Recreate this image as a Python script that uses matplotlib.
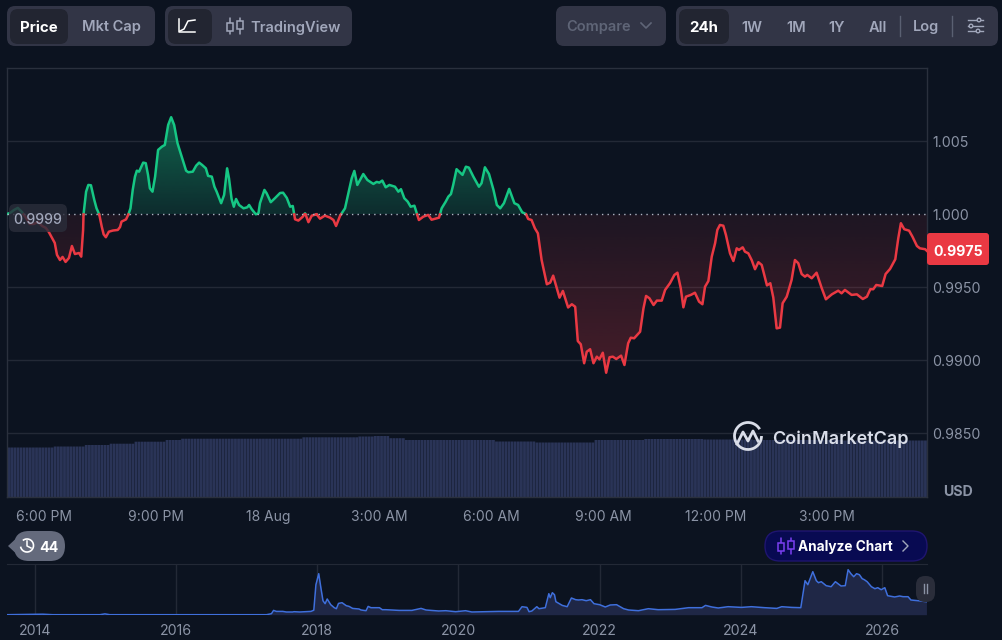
import numpy as np
import matplotlib
matplotlib.use("Agg")
import matplotlib.pyplot as plt
from matplotlib.patches import FancyBboxPatch, Rectangle, Circle, Arc, Polygon
from matplotlib.path import Path

plt.rcParams['font.family'] = ['Inter', 'DejaVu Sans']

# =====================================================
# DATA
# =====================================================
# hours after 6:00 PM on 17 Aug
price_hours = [
    -0.99, -0.91, -0.80, -0.70, -0.59, -0.48, -0.38, -0.27, -0.16, -0.05, 0.05, 0.13, 0.29, 0.35, 0.43, 0.50,
    0.58, 0.67, 0.75, 0.83, 0.94, 1.00, 1.05, 1.06, 1.13, 1.19, 1.26, 1.35, 1.41, 1.48, 1.55, 1.60,
    1.66, 1.74, 1.85, 1.98, 2.04, 2.08, 2.20, 2.26, 2.32, 2.38, 2.44, 2.49, 2.55, 2.66, 2.73, 2.79,
    2.84, 2.91, 2.98, 3.06, 3.16, 3.24, 3.33, 3.41, 3.49, 3.58, 3.65, 3.73, 3.81, 3.87, 3.99, 4.08,
    4.16, 4.24, 4.34, 4.40, 4.50, 4.57, 4.63, 4.75, 4.83, 4.91, 4.96, 5.03, 5.09, 5.15, 5.23, 5.35,
    5.45, 5.50, 5.57, 5.68, 5.75, 5.79, 5.91, 5.97, 6.08, 6.19, 6.33, 6.41, 6.51, 6.60, 6.67, 6.73,
    6.82, 6.94, 7.00, 7.09, 7.18, 7.31, 7.40, 7.53, 7.67, 7.76, 7.83, 7.94, 8.07, 8.16, 8.25, 8.32,
    8.40, 8.56, 8.67, 8.83, 8.92, 8.99, 9.07, 9.16, 9.26, 9.41, 9.50, 9.57, 9.66, 9.75, 9.83, 9.93,
    10.05, 10.17, 10.30, 10.39, 10.59, 10.66, 10.77, 10.84, 10.91, 10.97, 11.06, 11.22, 11.31, 11.39, 11.51, 11.66,
    11.73, 11.82, 11.93, 12.05, 12.14, 12.23, 12.33, 12.47, 12.61, 12.71, 12.82, 12.92, 12.98, 13.07, 13.16, 13.24,
    13.34, 13.48, 13.57, 13.65, 13.82, 13.91, 14.05, 14.15, 14.24, 14.31, 14.39, 14.48, 14.55, 14.64, 14.73, 14.82,
    14.89, 14.98, 15.07, 15.16, 15.25, 15.34, 15.47, 15.56, 15.66, 15.73, 15.82, 15.98, 16.07, 16.14, 16.23, 16.34,
    16.43, 16.56, 16.65, 16.78, 16.90, 16.98, 17.07, 17.14, 17.21, 17.34, 17.45, 17.56, 17.65, 17.72, 17.81, 17.90,
    17.99, 18.05, 18.12, 18.21, 18.28, 18.39, 18.48, 18.57, 18.63, 18.73, 18.79, 18.88, 18.97, 19.06, 19.15, 19.24,
    19.38, 19.47, 19.55, 19.64, 19.73, 19.80, 19.91, 20.04, 20.13, 20.22, 20.31, 20.40, 20.46, 20.58, 20.71, 20.85,
    20.96, 21.12, 21.29, 21.38, 21.47, 21.65, 21.79, 21.95, 22.06, 22.15, 22.23, 22.31, 22.47, 22.56, 22.68, 22.82,
    22.90, 22.97, 23.06, 23.19, 23.28, 23.40, 23.48, 23.62, 23.67,
]
price_values = [
    1.00003, 1.00010, 1.00031, 1.00045, 1.00017, 0.99976, 0.99935, 0.99935, 0.99949, 0.99921, 0.99908, 0.99880, 0.99805, 0.99723, 0.99688, 0.99709,
    0.99675, 0.99702, 0.99784, 0.99729, 0.99736, 0.99711, 0.99894, 0.99997, 1.00156, 1.00202, 1.00200, 1.00099, 1.00042, 1.00003, 0.99916, 0.99864,
    0.99844, 0.99882, 0.99890, 0.99894, 0.99914, 0.99951, 0.99966, 0.99997, 1.00042, 1.00168, 1.00259, 1.00300, 1.00293, 1.00355, 1.00351, 1.00271,
    1.00179, 1.00156, 1.00259, 1.00442, 1.00464, 1.00476, 1.00613, 1.00666, 1.00613, 1.00488, 1.00430, 1.00362, 1.00300, 1.00289, 1.00293, 1.00334,
    1.00355, 1.00339, 1.00316, 1.00264, 1.00259, 1.00190, 1.00156, 1.00077, 1.00134, 1.00316, 1.00248, 1.00106, 1.00053, 1.00106, 1.00065, 1.00042,
    1.00049, 1.00065, 1.00036, 1.00001, 1.00008, 1.00077, 1.00168, 1.00145, 1.00084, 1.00111, 1.00147, 1.00149, 1.00113, 1.00053, 1.00058, 0.99967,
    0.99958, 0.99985, 1.00008, 0.99947, 0.99992, 1.00001, 0.99971, 0.99992, 0.99978, 0.99962, 0.99921, 0.99992, 1.00042, 1.00145, 1.00248, 1.00298,
    1.00202, 1.00277, 1.00236, 1.00209, 1.00223, 1.00218, 1.00232, 1.00186, 1.00202, 1.00190, 1.00156, 1.00173, 1.00111, 1.00088, 1.00053, 1.00060,
    0.99962, 0.99985, 0.99997, 0.99964, 0.99978, 1.00042, 1.00088, 1.00122, 1.00140, 1.00202, 1.00310, 1.00271, 1.00327, 1.00321, 1.00259, 1.00190,
    1.00214, 1.00323, 1.00277, 1.00168, 1.00065, 1.00042, 1.00077, 1.00175, 1.00077, 1.00065, 1.00015, 1.00003, 0.99969, 0.99962, 0.99905, 0.99871,
    0.99688, 0.99522, 0.99533, 0.99581, 0.99430, 0.99476, 0.99363, 0.99385, 0.99368, 0.99133, 0.99111, 0.98981, 0.99060, 0.99077, 0.98981, 0.99026,
    0.99008, 0.99053, 0.98916, 0.99022, 0.99026, 0.99010, 0.99033, 0.98969, 0.99118, 0.99156, 0.99152, 0.99197, 0.99357, 0.99442, 0.99426, 0.99380,
    0.99410, 0.99410, 0.99483, 0.99529, 0.99586, 0.99601, 0.99494, 0.99364, 0.99437, 0.99449, 0.99464, 0.99403, 0.99385, 0.99505, 0.99544, 0.99711,
    0.99803, 0.99894, 0.99928, 0.99923, 0.99860, 0.99734, 0.99681, 0.99768, 0.99757, 0.99775, 0.99745, 0.99734, 0.99688, 0.99625, 0.99673, 0.99654,
    0.99514, 0.99529, 0.99431, 0.99220, 0.99225, 0.99392, 0.99437, 0.99551, 0.99688, 0.99666, 0.99592, 0.99574, 0.99586, 0.99563, 0.99601, 0.99494,
    0.99419, 0.99453, 0.99478, 0.99460, 0.99483, 0.99449, 0.99453, 0.99421, 0.99437, 0.99488, 0.99488, 0.99517, 0.99510, 0.99592, 0.99627, 0.99693,
    0.99837, 0.99940, 0.99899, 0.99889, 0.99848, 0.99784, 0.99768, 0.99762, 0.99750,
]
base_price = 1.0
last_price_label = "0.9975"
base_price_label = "0.9999"

y_ticks = [1.005, 1.000, 0.995, 0.990, 0.985]
y_tick_labels = ["1.005", "1.000", "0.9950", "0.9900", "0.9850"]
x_ticks = [0, 3, 6, 9, 12, 15, 18, 21]
x_tick_labels = ["6:00 PM", "9:00 PM", "18 Aug", "3:00 AM", "6:00 AM", "9:00 AM", "12:00 PM", "3:00 PM"]

# volume readings, level and number of 5 minute bars at that level
volume_levels = [49.5, 50.5, 52, 53.3, 55.3, 57, 58.3, 59.7, 60.5, 61, 58.8, 57, 55.5, 54.5, 57, 58, 57.5, 57, 56.5]
volume_counts = [15, 10, 8, 8, 10, 5, 39, 18, 5, 5, 5, 29, 13, 19, 16, 19, 16, 29, 27]

overview_years = [
    2013.60, 2013.90, 2014.11, 2014.25, 2014.92, 2014.99, 2015.06, 2017.28, 2017.35, 2017.38, 2017.42, 2017.51, 2017.56, 2017.65, 2017.67, 2017.75,
    2017.82, 2017.91, 2017.95, 2017.98, 2018.02, 2018.05, 2018.08, 2018.11, 2018.14, 2018.19, 2018.24, 2018.27, 2018.30, 2018.35, 2018.41, 2018.45,
    2018.50, 2018.59, 2018.62, 2018.69, 2018.72, 2018.76, 2018.88, 2018.92, 2018.97, 2019.16, 2019.34, 2019.47, 2019.54, 2019.72, 2019.82, 2019.96,
    2020.10, 2020.19, 2020.38, 2020.57, 2020.85, 2020.90, 2020.97, 2021.00, 2021.04, 2021.11, 2021.14, 2021.23, 2021.28, 2021.30, 2021.33, 2021.36,
    2021.38, 2021.47, 2021.54, 2021.60, 2021.66, 2021.70, 2021.75, 2021.81, 2021.87, 2021.92, 2022.00, 2022.08, 2022.15, 2022.24, 2022.34, 2022.41,
    2022.55, 2022.69, 2022.83, 2023.07, 2023.26, 2023.45, 2023.50, 2023.59, 2023.68, 2023.82, 2024.01, 2024.15, 2024.34, 2024.51, 2024.58, 2024.72,
    2024.85, 2024.91, 2024.95, 2025.02, 2025.07, 2025.10, 2025.14, 2025.21, 2025.28, 2025.34, 2025.42, 2025.48, 2025.52, 2025.56, 2025.60, 2025.64,
    2025.68, 2025.72, 2025.75, 2025.79, 2025.85, 2025.90, 2025.94, 2025.99, 2026.04, 2026.08, 2026.18, 2026.25, 2026.30, 2026.37, 2026.41, 2026.51,
    2026.63,
]
overview_values = [
    0, 0.3, 0.5, 0, 0, 0.8, 0, 0, 1, 4.3, 3.3, 3.3, 2.7, 2.7, 3, 2.7,
    3, 3.3, 4.5, 30, 41, 27, 14, 11, 15.7, 10, 7, 6, 11.3, 12, 9, 8.3,
    6.3, 5.7, 4.7, 4, 8.3, 7, 7, 5, 5, 4.3, 4.3, 6.3, 4.7, 3.7, 4, 3,
    4, 2.7, 3, 3.3, 3.3, 8, 7.3, 3, 3.7, 8, 6, 7, 21, 17, 22, 20,
    13, 9.3, 8, 16.7, 15, 14.7, 15, 14, 15, 11, 10, 7.7, 9.7, 10, 6, 4.7,
    4, 6, 5, 5.3, 7, 7, 9.3, 7.7, 6.7, 8, 7.3, 8, 7, 6.3, 8, 7.3,
    7, 34, 30, 43, 34, 32, 33, 29, 28, 33, 28.7, 29, 45, 41, 38, 41,
    40, 36, 35, 33, 28, 26, 27, 25, 27, 19, 17.7, 18.7, 18, 18, 14.7, 14,
    13,
]
overview_ticks = [2014, 2016, 2018, 2020, 2022, 2024, 2026]

# =====================================================
# COLOURS
# =====================================================
BG = '#0c1320'
GRID = '#232936'
BORDER = '#2a303d'
TICK = '#8b93a5'
GREEN = '#16c784'
RED = '#ea3943'
PILL = '#323546'
PILL_ON = '#222531'
MUTED = '#a1a7bb'
VOLUME = '#2a3457'
BLUE = '#3f6fdc'
NAVY = '#080a52'

W, H = 1002, 640


def px_axes(fig, left, top, right, bottom, **kw):
    return fig.add_axes([left / W, 1 - bottom / H, (right - left) / W, (bottom - top) / H], **kw)


fig = plt.figure(figsize=(W / 100, H / 100), dpi=100, facecolor=BG)

# =====================================================
# MAIN PRICE CHART
# =====================================================
ax = px_axes(fig, 7, 68, 927, 497, facecolor=BG)
xlim = (-0.99, 23.67)
ylim = (0.98065, 1.01003)

hours = np.array(price_hours)
prices = np.array(price_values)

# add the crossing points so the two colours meet on the base line
cross = np.where(np.diff(np.sign(prices - base_price)) != 0)[0]
cross_x = hours[cross] + (base_price - prices[cross]) * (hours[cross + 1] - hours[cross]) / (prices[cross + 1] - prices[cross])
all_x = np.insert(hours, cross + 1, cross_x)
all_y = np.insert(prices, cross + 1, base_price)

for tick in y_ticks:
    if tick != base_price:
        ax.axhline(tick, color=GRID, lw=1, zorder=1)
ax.axhline(base_price, color='#aeb4c2', lw=1, dashes=(1, 3), zorder=4)


def gradient_fill(mask, color, alpha_top, alpha_bottom, top, bottom):
    poly = ax.fill_between(all_x, base_price, all_y, where=mask, facecolor='none', edgecolor='none')
    rgba = np.zeros((256, 1, 4))
    rgba[:, 0, :3] = matplotlib.colors.to_rgb(color)
    rgba[:, 0, 3] = np.linspace(alpha_top, alpha_bottom, 256)
    im = ax.imshow(rgba, extent=(xlim[0], xlim[1], bottom, top), aspect='auto', zorder=2, interpolation='bilinear')
    im.set_clip_path(Path.make_compound_path(*poly.get_paths()), transform=ax.transData)


gradient_fill(all_y >= base_price, GREEN, 0.46, 0.14, 1.0067, base_price)
gradient_fill(all_y <= base_price, RED, 0.08, 0.26, base_price, 0.9892)

ax.plot(all_x, np.where(all_y >= base_price, all_y, np.nan), color=GREEN, lw=1.8, zorder=3, solid_joinstyle='round')
ax.plot(all_x, np.where(all_y <= base_price, all_y, np.nan), color=RED, lw=1.8, zorder=3, solid_joinstyle='round')

ax.set_xlim(xlim)
ax.set_ylim(ylim)

# =====================================================
# VOLUME BARS
# =====================================================
ax_vol = ax.twinx()
volumes = np.repeat(volume_levels, volume_counts)
bar_x = xlim[0] + (np.arange(len(volumes)) + 0.5) * (xlim[1] - xlim[0]) / len(volumes)
bars = ax_vol.bar(bar_x, volumes, width=(xlim[1] - xlim[0]) / len(volumes) * 0.9, color=VOLUME, linewidth=0)
for bar in bars:
    bar.set_snap(False)
ax_vol.set_ylim(0, 429)
ax_vol.set_yticks([])
ax_vol.set_zorder(ax.get_zorder() - 1)
ax.patch.set_visible(False)
ax_vol.patch.set_facecolor(BG)
for spine in ax_vol.spines.values():
    spine.set_visible(False)

# twinx moved the ticks to the left, so set them up after it
ax.yaxis.tick_right()
ax.set_yticks(y_ticks, y_tick_labels)
ax.set_xticks(x_ticks, x_tick_labels)
ax.tick_params(axis='y', length=0, pad=4, labelsize=10.2, labelcolor=TICK)
ax.tick_params(axis='x', length=0, pad=9.5, labelsize=10, labelcolor=TICK)
for spine in ax.spines.values():
    spine.set_color(BORDER)
    spine.set_linewidth(1)

# =====================================================
# OVERVIEW STRIP
# =====================================================
ax_over = px_axes(fig, 7, 564, 927, 614.7, facecolor=BG)
ax_over.set_xlim(2013.603, 2026.638)
ax_over.set_ylim(0, 50.7)
ax_over.fill_between(overview_years, 0, overview_values, color='#1f2746', linewidth=0, zorder=2)
ax_over.plot(overview_years, overview_values, color=BLUE, lw=1.1, zorder=3)
ax_over.set_xticks(overview_ticks, [str(y) for y in overview_ticks])
ax_over.grid(axis='x', color=GRID, lw=1, zorder=1)
ax_over.set_yticks([])
ax_over.tick_params(axis='x', length=0, pad=7, labelsize=10.2, labelcolor=TICK)
for name, spine in ax_over.spines.items():
    spine.set_visible(name == 'top')
    spine.set_color(GRID)

# =====================================================
# TOOLBAR AND LABELS (pixel coordinates)
# =====================================================
ui = fig.add_axes([0, 0, 1, 1], facecolor='none', zorder=10)
ui.set_xlim(0, W)
ui.set_ylim(H, 0)
ui.axis('off')


def box(x0, y0, x1, y1, color, radius=8, **kw):
    ui.add_patch(FancyBboxPatch((x0 + radius, y0 + radius), x1 - x0 - 2 * radius, y1 - y0 - 2 * radius,
                                boxstyle=f"round,pad={radius},rounding_size={radius}", facecolor=color,
                                edgecolor=kw.pop('edgecolor', 'none'), linewidth=kw.pop('linewidth', 0), **kw))


def label(x, y, text, color=MUTED, size=10.5, weight='semibold', ha='center'):
    ui.text(x, y, text, color=color, fontsize=size, fontweight=weight, ha=ha, va='center_baseline')


def candles(cx, cy, color, fill, lw=1.1):
    for dx, top, bot in [(-5, -3, 3), (5, -5, 1)]:
        ui.plot([cx + dx, cx + dx], [cy - 8, cy + 8], color=color, lw=lw, solid_capstyle='round')
        ui.add_patch(Rectangle((cx + dx - 2.6, cy + top), 5.2, bot - top + 2, facecolor=fill,
                               edgecolor=color, linewidth=lw, zorder=5))


# left groups
box(7, 6, 155, 46, PILL)
box(10, 9, 68, 44, PILL_ON)
label(39, 26, "Price", color='white', size=10.8, weight='bold')
label(111, 26, "Mkt Cap")
box(165, 6, 352, 46, PILL)
box(168, 9, 212, 44, PILL_ON)
ui.plot([179, 179, 195], [19, 32, 32], color='white', lw=1.1)
ui.plot([180, 184, 188, 195], [31, 29, 21, 20], color='white', lw=1.1)
candles(235, 26, MUTED, PILL)
label(250, 26, "TradingView", ha='left')

# right groups
box(556, 6, 666, 46, PILL)
label(566, 26, "Compare", color='#5f6577', ha='left')
ui.plot([641, 646, 651], [23, 28, 23], color='#5f6577', lw=1.2)
box(676, 6, 998, 46, PILL)
box(679, 9, 729, 44, PILL_ON)
label(704, 26, "24h", color='white', size=10.8, weight='bold')
for cx, text in zip([752, 796, 837, 878, 926], ["1W", "1M", "1Y", "All", "Log"]):
    label(cx, 26, text)
for sx in [900, 952]:
    ui.plot([sx, sx], [16, 36], color='#5a6072', lw=1)
for ly, dot in zip([20, 26, 31], [979, 971, 978]):
    ui.plot([968, 983], [ly, ly], color=MUTED, lw=1)
    ui.add_patch(Circle((dot, ly), 1.8, facecolor=PILL, edgecolor=MUTED, linewidth=1, zorder=5))

# base price tag and last price tag
box(9, 204, 67, 232, '#2a2d3a', radius=6, alpha=0.82)
label(38, 218, base_price_label, color=MUTED, weight='medium', size=10.2)
box(927, 233, 989, 265, RED, radius=3)
label(958, 250, last_price_label, color='white', size=10.2, weight='bold')
label(958, 491, "USD", color=TICK, size=10.2, weight='bold')

# logo
ui.add_patch(Arc((748, 436), 27, 27, angle=0, theta1=0, theta2=330, color='#d9dde8', lw=2))
ui.plot([737, 743, 748, 753, 758], [444, 432, 441, 431, 441], color='#d9dde8', lw=2, solid_joinstyle='round')
label(772, 437, "CoinMarketCap", color='#d9dde8', size=13.0, weight='semibold', ha='left')

# history tag
box(14, 531, 65, 561, '#646a7c', radius=15)
ui.add_patch(Polygon([(8, 546), (22, 533), (22, 559)], closed=True, facecolor='#646a7c', edgecolor='none'))
ui.add_patch(Arc((27, 545.5), 13, 13, theta1=-130, theta2=170, color='white', lw=1.2))
ui.plot([27, 27, 31], [541, 546, 548], color='white', lw=1.1)
label(49, 546, "44", color='white', size=10.2, weight='bold')

# analyze chart pill
box(765, 531, 927, 561, NAVY, radius=15, edgecolor='#1f1570', linewidth=1)
candles(786, 546, '#7b3ff2', NAVY)
label(798, 546, "Analyze Chart", color='white', size=9.8, weight='bold', ha='left')
ui.plot([903, 908, 903], [541, 546, 551], color=MUTED, lw=1)

# overview handle
box(916, 576, 935, 602, '#2a2d3a', radius=9)
for hx in [924, 927.5]:
    ui.plot([hx, hx], [584, 593], color=TICK, lw=1)

fig.savefig("out.png", dpi=100, facecolor=BG)
